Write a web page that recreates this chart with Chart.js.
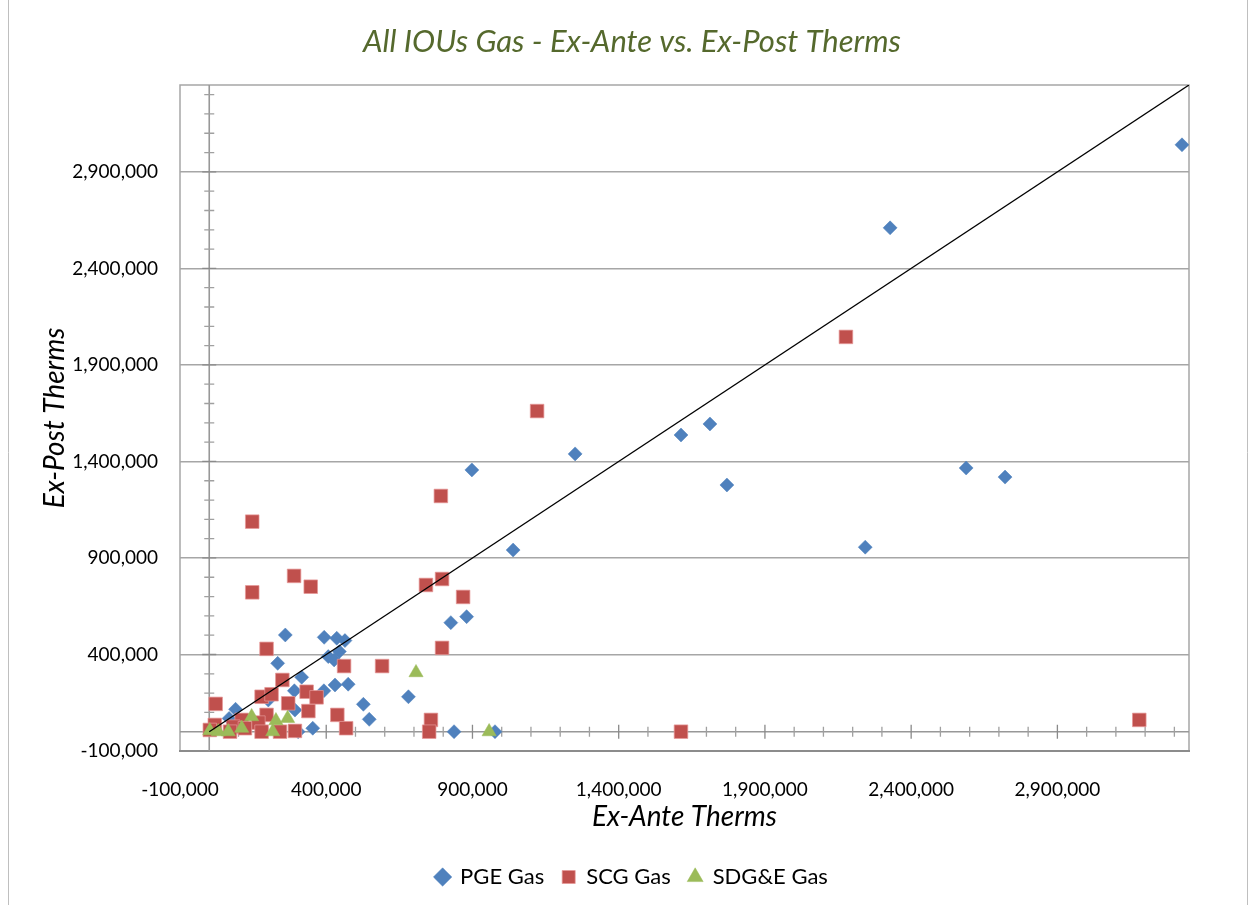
<!DOCTYPE html>
<html>
<head>
<meta charset="utf-8">
<script src="https://cdn.jsdelivr.net/npm/chart.js@4.4.1/dist/chart.umd.min.js"></script>
<style>
  html, body { margin: 0; padding: 0; background: #ffffff; }
  #wrap { width: 1250px; height: 905px; position: relative; }
</style>
</head>
<body>
<div id="wrap"><canvas id="c" width="1250" height="905"></canvas></div>
<script>
// ---- Data ----
const pgeExAnte = [3326000, 2328000, 2588000, 2721000, 2243000, 1712000, 1613000, 1770000, 1251000, 1039000,
  898000, 880000, 826000, 977000, 837000, 260000, 393000, 436000, 464000, 407000,
  445000, 427000, 234000, 316000, 291000, 430000, 475000, 392000, 527000, 547000,
  293000, 202000, 90000, 68000, 354000, 304000, 681000];
const pgeExPost = [3040000, 2610000, 1366000, 1319000, 956000, 1594000, 1537000, 1278000, 1439000, 941000,
  1356000, 596000, 565000, 0, 0, 501000, 489000, 484000, 472000, 389000,
  415000, 372000, 354000, 282000, 212000, 242000, 246000, 212000, 142000, 64000,
  112000, 164000, 116000, 69000, 18000, 0, 181000];

const scgExAnte = [3180000, 2177000, 1121000, 792000, 796000, 741000, 868000, 796000, 1613000, 758000,
  752000, 591000, 147000, 147000, 290000, 347000, 196000, 461000, 250000, 333000,
  367000, 179000, 213000, 270000, 339000, 22000, 438000, 468000, 196000, 168000,
  179000, 242000, 293000, 111000, 82000, 19000, 2000, 122000, 71000];
const scgExPost = [61000, 2045000, 1661000, 1221000, 791000, 760000, 698000, 434000, 0, 61000,
  0, 340000, 1088000, 722000, 807000, 751000, 429000, 340000, 268000, 207000,
  178000, 181000, 194000, 147000, 107000, 144000, 87000, 18000, 87000, 47000,
  0, 0, 4000, 61000, 26000, 35000, 9000, 18000, 0];

const sdgeExAnte = [707000, 957000, 145000, 228000, 268000, 111000, 217000, 65000, 2000, 31000];
const sdgeExPost = [306000, 0, 78000, 57000, 69000, 18000, 0, 0, 5000, 0];

// 1:1 reference line (ex-ante = ex-post)
const diagonalValues = [0, 3350000];

// Axis settings
const AXIS_MIN = -100000;
const AXIS_MAX = 3350000;
const MAJOR_STEP = 500000;
const MINOR_STEP = 100000;
const tickValues = [-100000, 400000, 900000, 1400000, 1900000, 2400000, 2900000];

const seriesNames = ['PGE Gas', 'SCG Gas', 'SDG&E Gas'];
const seriesColors = ['#4F81BD', '#C0504D', '#9BBB59'];

function pts(xs, ys) { return xs.map((v, i) => ({ x: v, y: ys[i] })); }
const fmt = v => Math.round(v).toLocaleString('en-US');

const FONT = "Lato, 'Open Sans', sans-serif";

const framePlugin = {
  id: 'frame',
  beforeDraw(chart) {
    const ctx = chart.ctx;
    ctx.save();
    ctx.strokeStyle = '#BFBFBF';
    ctx.lineWidth = 1;
    ctx.beginPath();
    ctx.moveTo(8.5, 0); ctx.lineTo(8.5, 905);
    ctx.moveTo(1247.5, 0); ctx.lineTo(1247.5, 905);
    ctx.stroke();
    ctx.restore();
  },
  beforeDatasetsDraw(chart) {
    const { ctx, chartArea: a, scales: { x, y } } = chart;
    const x0 = x.getPixelForValue(0);
    const y0 = y.getPixelForValue(0);
    ctx.save();
    // plot border
    ctx.strokeStyle = '#A6A6A6';
    ctx.lineWidth = 1.5;
    ctx.beginPath();
    ctx.moveTo(a.left, a.bottom); ctx.lineTo(a.left, a.top); ctx.lineTo(a.right, a.top); ctx.lineTo(a.right, a.bottom);
    ctx.stroke();
    ctx.strokeStyle = '#8C8C8C';
    ctx.lineWidth = 2;
    ctx.beginPath();
    ctx.moveTo(a.left - 1, a.bottom); ctx.lineTo(a.right + 1, a.bottom);
    ctx.stroke();
    // axis lines crossing at zero
    ctx.strokeStyle = '#989898';
    ctx.lineWidth = 1.6;
    ctx.beginPath();
    ctx.moveTo(x0, a.top); ctx.lineTo(x0, a.bottom);
    ctx.moveTo(a.left, y0); ctx.lineTo(a.right, y0);
    ctx.stroke();
    // tick marks on the zero axes
    ctx.lineWidth = 1.3;
    for (let v = AXIS_MIN; v < AXIS_MAX; v += MINOR_STEP) {
      if (v === 0 || v === AXIS_MIN) continue;
      const major = ((v - AXIS_MIN) % MAJOR_STEP) === 0;
      const len = major ? 7 : 5;
      ctx.strokeStyle = major ? '#8A8A8A' : '#A0A0A0';
      const px = x.getPixelForValue(v);
      const py = y.getPixelForValue(v);
      ctx.beginPath();
      ctx.moveTo(px, y0 - len); ctx.lineTo(px, y0 + len);
      ctx.moveTo(x0 - len, py); ctx.lineTo(x0 + len, py);
      ctx.stroke();
    }
    ctx.restore();
  }
};

const ctx = document.getElementById('c').getContext('2d');
new Chart(ctx, {
  type: 'scatter',
  data: {
    datasets: [
      {
        label: seriesNames[0], data: pts(pgeExAnte, pgeExPost),
        pointStyle: 'rectRot', pointRadius: 7, backgroundColor: seriesColors[0], borderColor: seriesColors[0],
        borderWidth: 0.5, order: 3
      },
      {
        label: seriesNames[1], data: pts(scgExAnte, scgExPost),
        pointStyle: 'rect', pointRadius: 9.6, backgroundColor: seriesColors[1], borderColor: 'rgba(230,150,150,0.9)',
        borderWidth: 0.8, order: 2
      },
      {
        label: seriesNames[2], data: pts(sdgeExAnte, sdgeExPost),
        pointStyle: 'triangle', pointRadius: 8.2, backgroundColor: seriesColors[2], borderColor: seriesColors[2],
        borderWidth: 0.5, order: 1
      },
      {
        type: 'line', label: 'diagonal', data: pts(diagonalValues, diagonalValues),
        borderColor: '#000000', borderWidth: 1.3, pointRadius: 0, fill: false, order: 0
      }
    ]
  },
  options: {
    responsive: false,
    animation: false,
    devicePixelRatio: 1,
    layout: { padding: { left: 14, right: 0, top: 0, bottom: 7 } },
    plugins: {
      tooltip: { enabled: false },
      title: {
        display: true,
        text: 'All IOUs Gas - Ex-Ante vs. Ex-Post Therms',
        color: '#55692D',
        font: { family: FONT, size: 31, style: 'italic', weight: 'normal', lineHeight: 1.2 },
        padding: { top: 23.4, bottom: 24.4 }
      },
      legend: {
        position: 'bottom',
        labels: {
          usePointStyle: true,
          boxWidth: 13, boxHeight: 13,
          color: '#000000',
          font: { family: FONT, size: 22 },
          padding: 18,
          filter: item => item.text !== 'diagonal',
          sort: (a, b) => a.datasetIndex - b.datasetIndex
        }
      }
    },
    scales: {
      x: {
        type: 'linear', position: 'bottom',
        min: AXIS_MIN, max: AXIS_MAX,
        afterBuildTicks: s => { s.ticks = tickValues.map(v => ({ value: v })); },
        afterFit: s => { s.height = 97; },
        grid: { display: false },
        border: { display: false },
        ticks: {
          color: '#000000', font: { family: FONT, size: 19 }, padding: 19,
          maxRotation: 0, autoSkip: false,
          callback: v => fmt(v)
        },
        title: {
          display: true, text: 'Ex-Ante Therms', color: '#000000',
          font: { family: FONT, size: 28, style: 'italic', lineHeight: 1.2 },
          padding: { top: 0, bottom: 14.2 }
        }
      },
      y: {
        type: 'linear', position: 'left',
        min: AXIS_MIN, max: AXIS_MAX,
        afterBuildTicks: s => { s.ticks = tickValues.map(v => ({ value: v })); },
        afterFit: s => { s.width = 166; },
        grid: {
          drawTicks: false,
          color: c => (c.tick && c.tick.value === AXIS_MIN) ? 'rgba(0,0,0,0)' : '#A6A6A6',
          lineWidth: 1.5
        },
        border: { display: false },
        ticks: {
          color: '#000000', font: { family: FONT, size: 19 }, padding: 22,
          autoSkip: false,
          callback: v => fmt(v)
        },
        title: {
          display: true, text: 'Ex-Post Therms', color: '#000000',
          font: { family: FONT, size: 28, style: 'italic', lineHeight: 1.2 },
          padding: { top: 24.2, bottom: 0 }
        }
      },
      y2: {
        type: 'linear', position: 'right', display: true,
        min: AXIS_MIN, max: AXIS_MAX,
        afterFit: s => { s.width = 61; },
        grid: { display: false },
        border: { display: false },
        ticks: { display: false }
      }
    }
  },
  plugins: [framePlugin]
});
</script>
</body>
</html>
